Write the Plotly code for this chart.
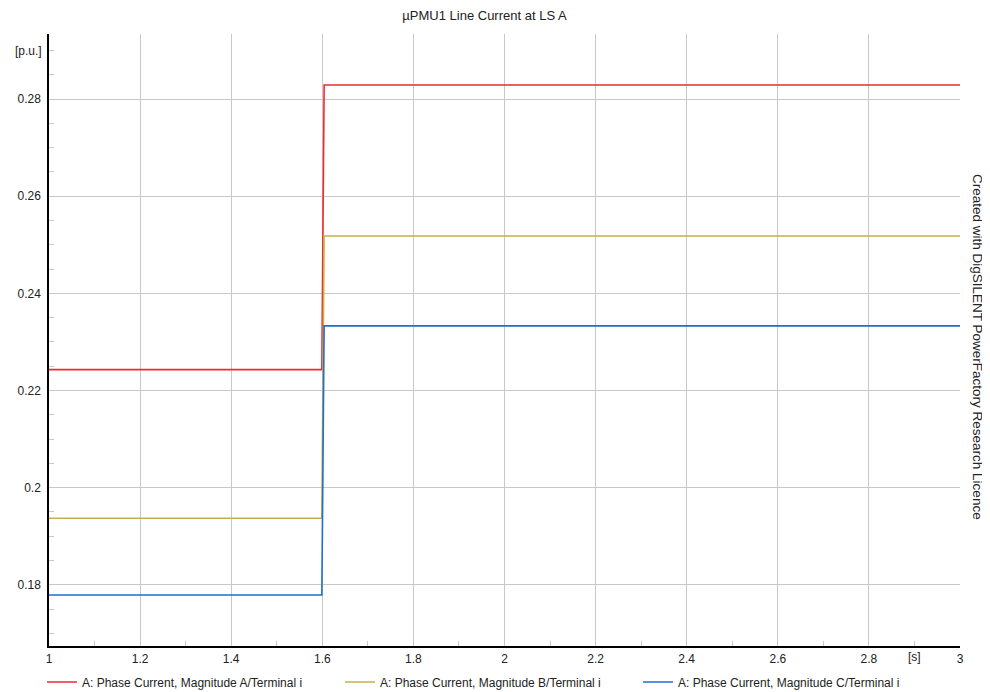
import plotly.graph_objects as go

# ---- data ----
time_s = [1.0, 1.599, 1.604, 3.0]
phase_a = [0.2243, 0.2243, 0.2829, 0.2829]
phase_b = [0.1937, 0.1937, 0.2518, 0.2518]
phase_c = [0.1779, 0.1779, 0.2333, 0.2333]
series_names = [
    "A: Phase Current, Magnitude A/Terminal i",
    "A: Phase Current, Magnitude B/Terminal i",
    "A: Phase Current, Magnitude C/Terminal i",
]
series_colors = ["#ec2a2f", "#c9b044", "#1f6fcf"]
title_text = "µPMU1 Line Current at LS A"
x_unit = "[s]"
y_unit = "[p.u.]"
x_unit_pos = 2.9
y_unit_pos = 0.29
side_note = "Created with DigSILENT PowerFactory Research Licence"

FONT = "Liberation Sans, Arial, sans-serif"
GRID = "#c8c8c8"

fig = go.Figure()
for vals, name, col in zip([phase_a, phase_b, phase_c], series_names, series_colors):
    fig.add_trace(go.Scatter(x=time_s, y=vals, mode="lines", name=name,
                             line=dict(color=col, width=1.6)))

# page is offset by the browser's 8px body margin
OFF = 8
W, H = 990 - OFF, 692 - OFF
ml, mr, mt, mb = 49 - OFF, 30, 34 - OFF, 46
PW = W - ml - mr
PH = H - mt - mb

fig.update_layout(
    width=W, height=H,
    margin=dict(l=ml, r=mr, t=mt, b=mb, pad=0, autoexpand=False),
    paper_bgcolor="white", plot_bgcolor="white",
    font=dict(family=FONT, size=12, color="#222"),
    title=dict(text=title_text, x=(484.5 - OFF) / W, xanchor="center", xref="container",
               y=1 - (15 - OFF) / H, yanchor="middle", yref="container",
               font=dict(size=13, color="#222")),
    showlegend=True,
    legend=dict(orientation="h", x=-7 / PW, xanchor="left",
                y=-(682 - 646) / PH, yanchor="middle",
                entrywidth=253, entrywidthmode="pixels",
                font=dict(size=12, color="#222"), bgcolor="rgba(0,0,0,0)",
                borderwidth=0, itemclick=False),
    xaxis=dict(range=[1, 3], tick0=1, dtick=0.2, showgrid=True, gridcolor=GRID,
               gridwidth=1, showline=True, linecolor="black", linewidth=1.5,
               ticks="", ticklabelstandoff=1, zeroline=False, automargin=False,
               minor=dict(dtick=0.1, tick0=1, ticks="inside", ticklen=5,
                          tickcolor=GRID, showgrid=False)),
    yaxis=dict(range=[0.1674, 0.2934], tick0=0.18, dtick=0.02, showgrid=True,
               gridcolor=GRID, gridwidth=1, showline=True, linecolor="black",
               linewidth=1.5, ticks="", ticklabelstandoff=4, zeroline=False,
               automargin=False,
               minor=dict(dtick=0.005, tick0=0.18, ticks="inside", ticklen=5,
                          tickcolor=GRID, showgrid=False)),
)

fig.add_annotation(x=x_unit_pos, xref="x", y=0, yref="paper", yanchor="top",
                   yshift=-2, text=x_unit, showarrow=False,
                   font=dict(size=12, color="#222"))
fig.add_annotation(x=0, xref="paper", xanchor="right", xshift=-5,
                   y=y_unit_pos, yref="y", text=y_unit, showarrow=False,
                   font=dict(size=12, color="#222"))
fig.add_annotation(x=(978 - 49) / PW, xref="paper", xanchor="center",
                   y=(646 - 347) / PH, yref="paper", yanchor="middle",
                   text=side_note, textangle=90, showarrow=False,
                   font=dict(size=13.5, color="#222"))

fig.write_html("out.html")
